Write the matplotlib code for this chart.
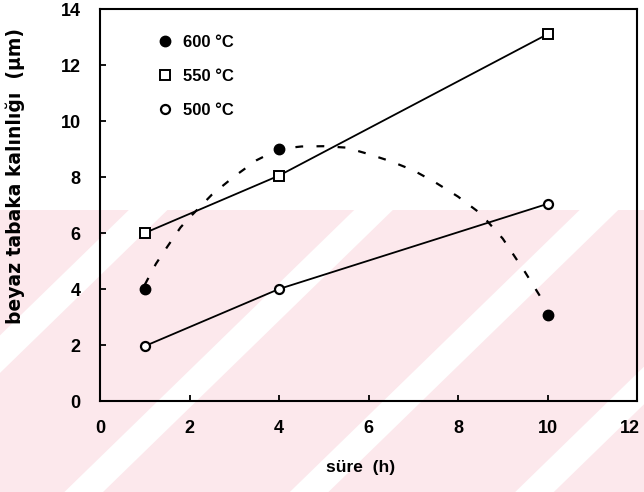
import matplotlib
matplotlib.use("Agg")
import matplotlib.pyplot as plt
import matplotlib.transforms as mtransforms
from matplotlib.lines import Line2D
from matplotlib.patches import Rectangle, Polygon

plt.rcParams['font.family'] = ['Liberation Sans', 'DejaVu Sans']
plt.rcParams['font.weight'] = 'bold'

# data
t = [1, 4, 10]
y600 = [4.0, 9.0, 3.07]
y550 = [6.0, 8.05, 13.1]
y500 = [1.96, 4.0, 7.04]

# hand-drawn dashed trend through the 600 C points
trend_x = [1.0, 1.25, 1.5, 1.8, 2.0, 2.5, 3.0, 3.5, 4.0, 4.5, 5.0, 5.5,
           6.0, 6.5, 7.0, 7.5, 8.0, 8.5, 9.0, 9.5, 9.85]
trend_y = [4.15, 4.9, 5.5, 6.2, 6.55, 7.37, 8.02, 8.6, 9.0, 9.09, 9.1, 9.05,
           8.82, 8.56, 8.24, 7.8, 7.3, 6.7, 5.8, 4.6, 3.7]

fig = plt.figure(figsize=(6.44, 4.92), dpi=100)

# pale pink watermark band behind the chart
pink = '#fce8ec'
band = 282 / 492
fig.patches.append(Rectangle((0, 0), 1, band, transform=fig.transFigure,
                             facecolor=pink, edgecolor='none', zorder=-10))
for x0 in [-0.25, 0.1, 0.45, 0.8]:
    fig.patches.append(Polygon([(x0, 0), (x0 + 0.06, 0), (x0 + 0.51, band),
                                (x0 + 0.45, band)], closed=True,
                               transform=fig.transFigure, facecolor='white',
                               edgecolor='none', zorder=-9))

ax = fig.add_axes([100 / 644, 91 / 492, 537 / 644, 392 / 492])
ax.patch.set_alpha(0)

ax.plot(trend_x, trend_y, color='black', lw=1.6, ls=(0, (3.5, 6)))
ax.plot(t, y600, ls='none', marker='o', ms=7.5, color='black')
ax.plot(t, y550, color='black', lw=1.3, marker='s', ms=7, mfc='white', mec='black', mew=1.4)
ax.plot(t, y500, color='black', lw=1.3, marker='o', ms=6.5, mfc='white', mec='black', mew=1.6)

ax.set_xlim(0, 12)
ax.set_ylim(0, 14)
ax.set_xticks([0, 2, 4, 6, 8, 10, 12])
ax.set_yticks([0, 2, 4, 6, 8, 10, 12, 14])
ax.tick_params(direction='in', length=4, width=1.3, labelsize=13, pad=14)
for s in ax.spines.values():
    s.set_linewidth(1.5)

ax.set_xlabel('süre  (h)', fontsize=12.5, fontweight='bold')
ax.xaxis.set_label_coords(0.485, -0.15)
ax.set_ylabel('beyaz tabaka kalınlığı  (µm)', fontsize=13.5, fontweight='bold',
              family=['DejaVu Sans'])
ax.yaxis.set_label_coords(-0.14, 0.575)

handles = [
    Line2D([], [], ls='none', marker='o', ms=7.5, color='black'),
    Line2D([], [], ls='none', marker='s', ms=7, mfc='white', mec='black', mew=1.4),
    Line2D([], [], ls='none', marker='o', ms=6.5, mfc='white', mec='black', mew=1.6),
]
labels = ['600 °C', '550 °C', '500 °C']
ax.legend(handles, labels, loc='upper left', bbox_to_anchor=(0.09, 0.955),
          frameon=False, prop={'size': 12, 'weight': 'bold'},
          handlelength=1.0, handletextpad=0.6, labelspacing=1.15, borderpad=0)

# keep the last x tick label inside the figure edge
last = ax.get_xticklabels()[-1]
last.set_transform(last.get_transform() +
                   mtransforms.ScaledTranslation(-5 / 72, 0, fig.dpi_scale_trans))

fig.savefig('out.png', dpi=100)
